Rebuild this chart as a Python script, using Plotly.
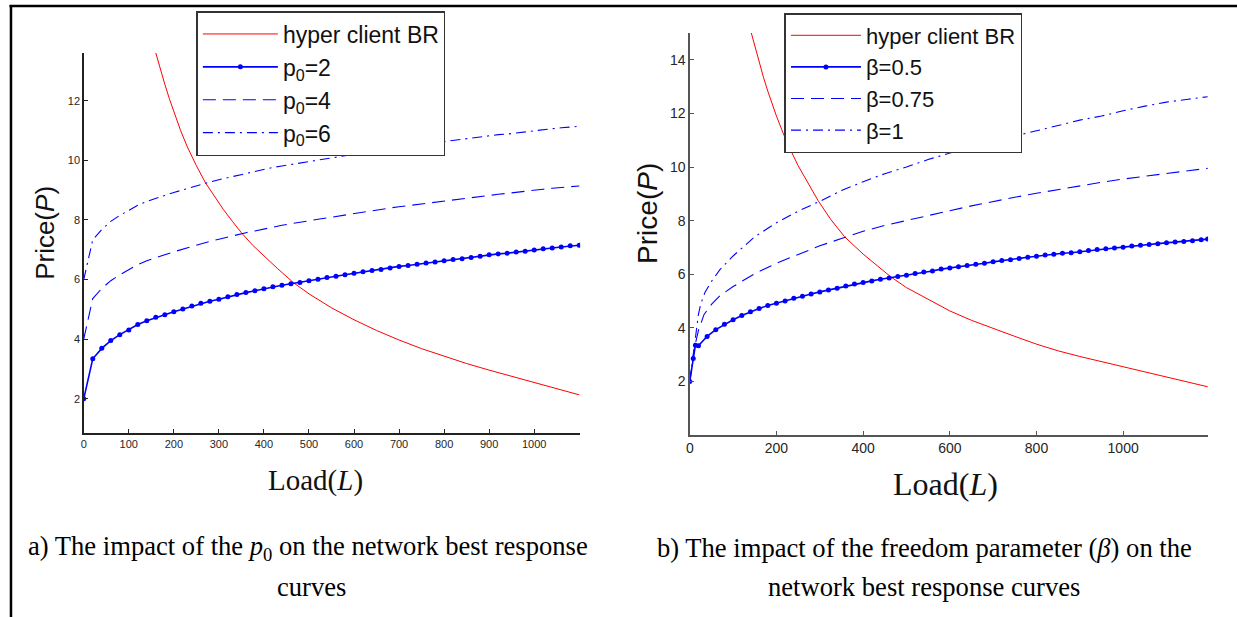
import plotly.graph_objects as go

# ---------------- Left panel: impact of p0 ----------------
load_left = [0, 20, 40, 60, 80, 100, 120, 140, 160, 180, 200, 220, 240, 260, 280, 300,
             320, 340, 360, 380, 400, 420, 440, 460, 480, 500, 520, 540, 560, 580, 600,
             620, 640, 660, 680, 700, 720, 740, 760, 780, 800, 820, 840, 860, 880, 900,
             920, 940, 960, 980, 1000, 1020, 1040, 1060, 1080, 1100]
p0_2 = [2.0, 3.34, 3.69, 3.95, 4.15, 4.31, 4.49, 4.62, 4.73, 4.82, 4.92, 5.01, 5.11, 5.2,
        5.27, 5.34, 5.42, 5.5, 5.56, 5.62, 5.69, 5.76, 5.81, 5.86, 5.9, 5.96, 6.01, 6.07,
        6.11, 6.16, 6.21, 6.26, 6.3, 6.34, 6.39, 6.44, 6.47, 6.51, 6.55, 6.59, 6.63, 6.67,
        6.7, 6.74, 6.78, 6.83, 6.86, 6.88, 6.92, 6.95, 6.99, 7.03, 7.06, 7.09, 7.13, 7.15]
p0_4 = [4.0, 5.36, 5.7, 5.96, 6.16, 6.32, 6.5, 6.63, 6.74, 6.83, 6.93, 7.02, 7.12, 7.2,
        7.28, 7.35, 7.43, 7.5, 7.57, 7.63, 7.7, 7.76, 7.82, 7.87, 7.91, 7.97, 8.02, 8.07,
        8.12, 8.17, 8.22, 8.26, 8.31, 8.35, 8.4, 8.44, 8.48, 8.52, 8.56, 8.6, 8.64, 8.67,
        8.71, 8.75, 8.79, 8.83, 8.86, 8.89, 8.93, 8.96, 9.0, 9.03, 9.06, 9.09, 9.12, 9.14]
p0_6 = [6.0, 7.33, 7.68, 7.95, 8.15, 8.31, 8.49, 8.62, 8.73, 8.82, 8.92, 9.01, 9.11, 9.2,
        9.27, 9.35, 9.42, 9.5, 9.56, 9.62, 9.69, 9.76, 9.81, 9.86, 9.9, 9.96, 10.01, 10.07,
        10.11, 10.16, 10.21, 10.26, 10.3, 10.34, 10.39, 10.44, 10.47, 10.51, 10.55, 10.59,
        10.63, 10.67, 10.7, 10.74, 10.78, 10.82, 10.86, 10.88, 10.92, 10.95, 10.99, 11.03,
        11.06, 11.09, 11.12, 11.14]
br_load_left = [160, 170, 180, 190, 200, 215, 230, 250, 270, 290, 310, 330, 350, 375, 400,
                430, 465, 500, 550, 600, 650, 700, 750, 800, 850, 900, 950, 1000, 1050, 1100]
br_price_left = [13.6, 13.05, 12.55, 12.07, 11.62, 11.0, 10.45, 9.82, 9.25, 8.78, 8.35, 7.95,
                 7.57, 7.15, 6.78, 6.37, 5.9, 5.52, 5.05, 4.65, 4.29, 3.97, 3.68, 3.42, 3.18,
                 2.96, 2.75, 2.55, 2.34, 2.13]

# ---------------- Right panel: impact of beta ----------------
load_b05 = [0, 8, 13, 20, 40, 60, 80, 100, 120, 140, 160, 180, 200, 220, 240, 260, 280,
            300, 320, 340, 360, 380, 400, 420, 440, 460, 480, 500, 520, 540, 560, 580, 600,
            620, 640, 660, 680, 700, 720, 740, 760, 780, 800, 820, 840, 860, 880, 900, 920,
            940, 960, 980, 1000, 1020, 1040, 1060, 1080, 1100, 1120, 1140, 1160, 1180, 1195]
beta_05 = [2.0, 2.85, 3.35, 3.33, 3.68, 3.93, 4.13, 4.3, 4.46, 4.6, 4.72, 4.83, 4.92, 5.0,
           5.1, 5.18, 5.26, 5.34, 5.41, 5.48, 5.56, 5.63, 5.69, 5.75, 5.81, 5.86, 5.91, 5.96,
           6.03, 6.08, 6.12, 6.19, 6.23, 6.28, 6.32, 6.37, 6.41, 6.46, 6.51, 6.54, 6.59, 6.63,
           6.67, 6.72, 6.74, 6.78, 6.8, 6.84, 6.88, 6.92, 6.95, 6.98, 7.01, 7.05, 7.08, 7.11,
           7.14, 7.17, 7.2, 7.22, 7.25, 7.29, 7.31]
load_b075 = [0, 10, 20, 33, 50, 70, 100, 150, 200, 250, 300, 350, 400, 450, 500, 550, 600,
             650, 700, 750, 800, 850, 900, 950, 1000, 1050, 1100, 1150, 1195]
beta_075 = [2.0, 3.2, 3.9, 4.5, 4.87, 5.2, 5.54, 6.02, 6.41, 6.75, 7.06, 7.33, 7.6, 7.82,
            8.01, 8.2, 8.37, 8.55, 8.72, 8.87, 9.02, 9.16, 9.3, 9.43, 9.55, 9.66, 9.77, 9.86,
            9.95]
load_b1 = [0, 10, 15, 20, 25, 35, 50, 70, 100, 150, 200, 250, 300, 350, 400, 450, 500, 550,
           600, 650, 700, 750, 800, 850, 900, 950, 1000, 1050, 1100, 1150, 1195]
beta_1 = [2.0, 3.3, 3.95, 4.5, 4.87, 5.32, 5.73, 6.18, 6.68, 7.4, 7.92, 8.35, 8.72, 9.12,
          9.45, 9.75, 10.0, 10.28, 10.52, 10.74, 10.95, 11.16, 11.35, 11.55, 11.75, 11.9,
          12.1, 12.27, 12.42, 12.53, 12.62]
br_load_right = [142, 150, 160, 170, 180, 190, 200, 215, 230, 250, 270, 296, 325, 357, 400,
                 430, 464, 500, 550, 600, 650, 700, 750, 800, 850, 900, 950, 1000, 1050, 1100,
                 1150, 1195]
br_price_right = [15.0, 14.5, 13.9, 13.35, 12.83, 12.35, 11.9, 11.28, 10.72, 10.05, 9.47,
                  8.75, 8.05, 7.4, 6.75, 6.35, 5.9, 5.5, 5.05, 4.63, 4.28, 3.97, 3.68, 3.39,
                  3.14, 2.93, 2.74, 2.55, 2.37, 2.18, 1.99, 1.8]

left_yticks = [2, 4, 6, 8, 10, 12]
left_xticks = [0, 100, 200, 300, 400, 500, 600, 700, 800, 900, 1000]
right_yticks = [2, 4, 6, 8, 10, 12, 14]
right_xticks = [0, 200, 400, 600, 800, 1000]

RED = "#ff0000"
BLUE = "#0000ff"
DASH = "13px,7px"
DASHDOT = "10px,5px,2px,5px"

W, H = 1237, 617
fig = go.Figure()

# left traces
fig.add_trace(go.Scatter(x=br_load_left, y=br_price_left, mode="lines", name="hyper client BR",
                         line=dict(color=RED, width=1), xaxis="x", yaxis="y", legend="legend"))
fig.add_trace(go.Scatter(x=load_left, y=p0_2, mode="lines+markers", name="p<sub>0</sub>=2",
                         line=dict(color=BLUE, width=1.6), marker=dict(color=BLUE, size=5),
                         xaxis="x", yaxis="y", legend="legend"))
fig.add_trace(go.Scatter(x=load_left, y=p0_4, mode="lines", name="p<sub>0</sub>=4",
                         line=dict(color=BLUE, width=1.1, dash=DASH), xaxis="x", yaxis="y",
                         legend="legend"))
fig.add_trace(go.Scatter(x=load_left, y=p0_6, mode="lines", name="p<sub>0</sub>=6",
                         line=dict(color=BLUE, width=1.1, dash=DASHDOT), xaxis="x", yaxis="y",
                         legend="legend"))

# right traces
fig.add_trace(go.Scatter(x=br_load_right, y=br_price_right, mode="lines", name="hyper client BR",
                         line=dict(color=RED, width=1), xaxis="x2", yaxis="y2", legend="legend2"))
fig.add_trace(go.Scatter(x=load_b05, y=beta_05, mode="lines+markers", name="β=0.5",
                         line=dict(color=BLUE, width=1.6), marker=dict(color=BLUE, size=5),
                         xaxis="x2", yaxis="y2", legend="legend2"))
fig.add_trace(go.Scatter(x=load_b075, y=beta_075, mode="lines", name="β=0.75",
                         line=dict(color=BLUE, width=1.1, dash=DASH), xaxis="x2", yaxis="y2",
                         legend="legend2"))
fig.add_trace(go.Scatter(x=load_b1, y=beta_1, mode="lines", name="β=1",
                         line=dict(color=BLUE, width=1.1, dash=DASHDOT), xaxis="x2", yaxis="y2",
                         legend="legend2"))

def px_x(v):
    return v / W

def px_y(v):
    return 1 - v / H

axis_common = dict(showline=True, linewidth=1.5, showgrid=False, zeroline=False,
                   ticks="inside", ticklen=4, tickwidth=1, mirror=False)

fig.update_layout(
    width=W, height=H, autosize=False,
    margin=dict(l=0, r=0, t=0, b=0),
    paper_bgcolor="white", plot_bgcolor="white",
    hovermode=False,
    xaxis=dict(domain=[px_x(80), px_x(578)], range=[0, 1102], tickvals=left_xticks,
               linecolor="#222222", tickcolor="#222222", anchor="y",
               tickfont=dict(family="Arial", size=11, color="#262626"), **axis_common),
    yaxis=dict(domain=[px_y(433), px_y(53)], range=[0.85, 13.6], tickvals=left_yticks,
               linecolor="#222222", tickcolor="#222222", anchor="x",
               tickfont=dict(family="Arial", size=11, color="#262626"), **axis_common),
    xaxis2=dict(domain=[px_x(688), px_x(1208)], range=[0, 1196], tickvals=right_xticks,
                linecolor="#555555", tickcolor="#555555", anchor="y2",
                tickfont=dict(family="Arial", size=14, color="#262626"), **axis_common),
    yaxis2=dict(domain=[px_y(435), px_y(33)], range=[0, 15], tickvals=right_yticks,
                linecolor="#555555", tickcolor="#555555", anchor="x2",
                tickfont=dict(family="Arial", size=14, color="#262626"), **axis_common),
    legend=dict(x=px_x(193), y=px_y(11), xanchor="left", yanchor="top",
                bgcolor="white", bordercolor="#333333", borderwidth=1.5, itemwidth=75,
                font=dict(family="Arial", size=23, color="#111111"), tracegroupgap=0),
    legend2=dict(x=px_x(783), y=px_y(13), xanchor="left", yanchor="top",
                 bgcolor="white", bordercolor="#333333", borderwidth=1.5, itemwidth=70,
                 font=dict(family="Arial", size=22, color="#111111"), tracegroupgap=0),
    showlegend=True,
)

annotations = [
    dict(text="Price(<i>P</i>)", x=px_x(41), y=px_y(233), textangle=-90,
         font=dict(family="Arial", size=26, color="#111111")),
    dict(text="Load(<i>L</i>)", x=px_x(313), y=px_y(481),
         font=dict(family="Liberation Serif", size=29, color="#111111")),
    dict(text="Price(<i>P</i>)", x=px_x(645), y=px_y(213), textangle=-90,
         font=dict(family="Arial", size=28, color="#111111")),
    dict(text="Load(<i>L</i>)", x=px_x(945), y=px_y(484),
         font=dict(family="Liberation Serif", size=32, color="#111111")),
    dict(text="a) The impact of the <i>p</i><sub>0</sub> on the network best response",
         x=px_x(305), y=px_y(548), font=dict(family="Liberation Serif", size=26.6, color="#000000")),
    dict(text="curves", x=px_x(308), y=px_y(587),
         font=dict(family="Liberation Serif", size=26.6, color="#000000")),
    dict(text="b) The impact of the freedom parameter (<i>β</i>) on the",
         x=px_x(923), y=px_y(548), font=dict(family="Liberation Serif", size=26.6, color="#000000")),
    dict(text="network best response curves", x=px_x(923), y=px_y(587),
         font=dict(family="Liberation Serif", size=26.6, color="#000000")),
]
for a in annotations:
    a.update(xref="paper", yref="paper", showarrow=False, xanchor="center", yanchor="middle")
fig.update_layout(annotations=annotations)

fig.update_layout(shapes=[
    dict(type="line", xref="paper", yref="paper", x0=px_x(5.5), x1=1, y0=px_y(6), y1=px_y(6),
         line=dict(color="black", width=2.5)),
    dict(type="line", xref="paper", yref="paper", x0=px_x(7), x1=px_x(7), y0=0, y1=px_y(5),
         line=dict(color="black", width=2.5)),
])

fig.write_html("out.html", config={"displayModeBar": False, "staticPlot": True},
               post_script="document.body.style.margin='0px';document.body.style.overflow='hidden';")
